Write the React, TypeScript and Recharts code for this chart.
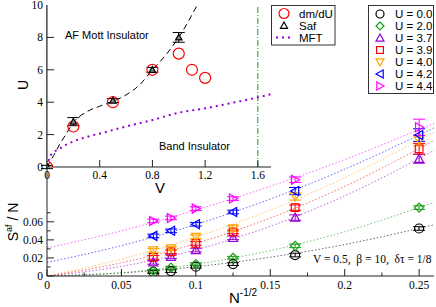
import React from 'react'
import { ComposedChart, Line, Scatter, XAxis, YAxis, ErrorBar, ReferenceLine } from 'recharts'

const SERIF = '"Liberation Serif", "DejaVu Serif", serif'
const SANS = '"Liberation Sans", Arial, sans-serif'
const AXIS = '#222'

// main panel: S_af / N against N^-1/2
const SIZES = [0.0714, 0.0833, 0.1, 0.125, 0.1667, 0.25]
const U_LABELS = ['U = 0.0', 'U = 2.0', 'U = 3.7', 'U = 3.9', 'U = 4.0', 'U = 4.2', 'U = 4.4']
const COLORS = ['#000000', '#14a014', '#9400d3', '#ff0000', '#ffa500', '#0000ff', '#ff00ff']
const KINDS = ['circle', 'diamond', 'up', 'square', 'down', 'left', 'right']

const S_U00 = [0.0045, 0.0055, 0.0103, 0.0132, 0.0232, 0.0526]
const S_U20 = [0.0058, 0.0092, 0.0132, 0.0202, 0.0334, 0.0757]
const S_U37 = [0.0151, 0.0213, 0.0287, 0.0422, 0.0647, 0.1298]
const S_U39 = [0.0206, 0.0268, 0.036, 0.0488, 0.0757, 0.1408]
const S_U40 = [0.0283, 0.0305, 0.0433, 0.0526, 0.088, 0.15]
const S_U42 = [0.0444, 0.05, 0.0573, 0.0709, 0.094, 0.156]
const S_U44 = [0.061, 0.0643, 0.0746, 0.0857, 0.1066, 0.1646]

const E_U00 = [0.0015, 0.0015, 0.0015, 0.0015, 0.002, 0.002]
const E_U20 = [0.0015, 0.0015, 0.0015, 0.0015, 0.002, 0.002]
const E_U37 = [0.002, 0.002, 0.002, 0.002, 0.003, 0.005]
const E_U39 = [0.002, 0.002, 0.002, 0.002, 0.003, 0.006]
const E_U40 = [0.002, 0.002, 0.002, 0.003, 0.004, 0.006]
const E_U42 = [0.002, 0.002, 0.002, 0.002, 0.004, 0.007]
const E_U44 = [0.002, 0.002, 0.002, 0.002, 0.003, 0.009]

// dotted fit curves, read at these x positions
const FIT_X = [0, 0.05, 0.1, 0.15, 0.2, 0.26]
const FIT_U00 = [0, 0.0034, 0.0103, 0.0208, 0.0349, 0.0566]
const FIT_U20 = [0, 0.0036, 0.013, 0.0281, 0.049, 0.0817]
const FIT_U37 = [0, 0.0107, 0.029, 0.0551, 0.0887, 0.139]
const FIT_U39 = [0, 0.0146, 0.036, 0.0642, 0.0992, 0.15]
const FIT_U40 = [0, 0.0187, 0.043, 0.073, 0.1087, 0.159]
const FIT_U42 = [0.015, 0.0336, 0.057, 0.0852, 0.1182, 0.164]
const FIT_U44 = [0.031, 0.05, 0.073, 0.0993, 0.1289, 0.169]

const MAIN_X_TICKS = [0, 0.025, 0.05, 0.075, 0.1, 0.125, 0.15, 0.175, 0.2, 0.225, 0.25]
const MAIN_X_LABELS = ['0', '', '0.05', '', '0.1', '', '0.15', '', '0.2', '', '0.25']
const MAIN_Y_TICKS = [0, 0.01, 0.02, 0.03, 0.04, 0.05, 0.06, 0.07]
const MAIN_Y_LABELS = ['0', '', '0.02', '', '0.04', '', '0.06', '']

// inset: phase diagram U against V
const DMDU_V = [0, 0.2, 0.5, 0.8, 1.0, 1.1, 1.2]
const DMDU_U = [0, 2.5, 4.0, 6.0, 7.0, 6.0, 5.5]
const SAF_V = [0, 0.2, 0.5, 0.8, 1.0]
const SAF_U = [0, 2.8, 4.1, 6.0, 8.0]
const SAF_ERR = [0.1, 0.25, 0.12, 0.15, 0.3]
const BOUND_V = [0, 0.05, 0.1, 0.15, 0.2, 0.3, 0.4, 0.5, 0.6, 0.7, 0.8, 0.9, 1.0, 1.14]
const BOUND_U = [0, 0.7, 1.45, 2.1, 2.75, 3.4, 3.75, 4.05, 4.45, 5.05, 6.0, 6.9, 8.0, 10]
const MFT_V = [0, 0.02, 0.05, 0.1, 0.15, 0.2, 0.3, 0.45, 0.6, 0.8, 1.0, 1.2, 1.4, 1.6, 1.7]
const MFT_U = [0, 0.6, 0.9, 1.15, 1.4, 1.58, 1.85, 2.17, 2.5, 2.9, 3.35, 3.62, 3.95, 4.3, 4.5]

const IN_X_TICKS = [0, 0.4, 0.8, 1.2, 1.6]
const IN_X_LABELS = ['0', '0.4', '0.8', '1.2', '1.6']
const IN_Y_TICKS = [0, 2, 4, 6, 8, 10]
const IN_Y_LABELS = ['0', '2', '4', '6', '8', '10']

const zip = (xs: number[], ys: number[], es?: number[]) =>
  xs.map((x, i) => ({ x, y: ys[i], err: es ? es[i] : 0 }))

const SERIES = [
  { vals: S_U00, errs: E_U00, fit: FIT_U00 },
  { vals: S_U20, errs: E_U20, fit: FIT_U20 },
  { vals: S_U37, errs: E_U37, fit: FIT_U37 },
  { vals: S_U39, errs: E_U39, fit: FIT_U39 },
  { vals: S_U40, errs: E_U40, fit: FIT_U40 },
  { vals: S_U42, errs: E_U42, fit: FIT_U42 },
  { vals: S_U44, errs: E_U44, fit: FIT_U44 },
].map((s, i) => ({
  ...s,
  label: U_LABELS[i],
  color: COLORS[i],
  kind: KINDS[i],
  points: zip(SIZES, s.vals, s.errs),
  fitData: zip(FIT_X, s.fit),
}))

function Marker({ kind, cx, cy, color, s = 4.5, fill = 'none' }: any) {
  if (cx == null || cy == null) return null
  const st = { fill, stroke: color, strokeWidth: 1.2 }
  switch (kind) {
    case 'circle':
      return <circle cx={cx} cy={cy} r={s} {...st} />
    case 'diamond':
      return <polygon points={`${cx},${cy - s} ${cx + s},${cy} ${cx},${cy + s} ${cx - s},${cy}`} {...st} />
    case 'square':
      return <rect x={cx - s * 0.85} y={cy - s * 0.85} width={s * 1.7} height={s * 1.7} {...st} />
    case 'up':
      return <polygon points={`${cx},${cy - s} ${cx + s},${cy + s * 0.8} ${cx - s},${cy + s * 0.8}`} {...st} />
    case 'down':
      return <polygon points={`${cx},${cy + s} ${cx + s},${cy - s * 0.8} ${cx - s},${cy - s * 0.8}`} {...st} />
    case 'left':
      return <polygon points={`${cx - s},${cy} ${cx + s * 0.8},${cy - s} ${cx + s * 0.8},${cy + s}`} {...st} />
    case 'right':
      return <polygon points={`${cx + s},${cy} ${cx - s * 0.8},${cy - s} ${cx - s * 0.8},${cy + s}`} {...st} />
  }
  return null
}

// ticks point inwards, minor ones have empty labels
const BottomTick = ({ x, y, index, labels, len = 7 }: any) => {
  const lab = labels[index]
  return (
    <g>
      <line x1={x} x2={x} y1={y} y2={y - (lab ? len : len / 2)} stroke={AXIS} />
      {lab && (
        <text x={x} y={y + 12.5} textAnchor="middle" fontFamily={SERIF} fontSize={11.5} fill="#000">
          {lab}
        </text>
      )}
    </g>
  )
}

const LeftTick = ({ x, y, index, labels, len = 7 }: any) => {
  const lab = labels[index]
  return (
    <g>
      <line x1={x} x2={x + (lab ? len : len / 2)} y1={y} y2={y} stroke={AXIS} />
      {lab && (
        <text x={x - 4} y={y + 4} textAnchor="end" fontFamily={SERIF} fontSize={11.5} fill="#000">
          {lab}
        </text>
      )}
    </g>
  )
}

const TopTick = ({ x, y }: any) => <line x1={x} x2={x} y1={y} y2={y + 7} stroke={AXIS} />
const RightTick = ({ x, y }: any) => <line x1={x} x2={x - 7} y1={y} y2={y} stroke={AXIS} />

function MainChart() {
  return (
    <ComposedChart width={436} height={307} margin={{ top: 5, right: 2, left: 0, bottom: 0 }}>
      <XAxis
        dataKey="x"
        type="number"
        domain={[0, 0.26]}
        ticks={MAIN_X_TICKS}
        interval={0}
        height={31}
        tickSize={0}
        tickMargin={0}
        allowDataOverflow
        stroke={AXIS}
        tick={(p: any) => <BottomTick {...p} labels={MAIN_X_LABELS} />}
      />
      <YAxis
        dataKey="y"
        type="number"
        domain={[0, 0.3]}
        ticks={MAIN_Y_TICKS}
        interval={0}
        width={47}
        tickSize={0}
        tickMargin={0}
        allowDataOverflow
        stroke={AXIS}
        tick={(p: any) => <LeftTick {...p} labels={MAIN_Y_LABELS} />}
      />
      <XAxis xAxisId="top" orientation="top" type="number" domain={[0, 0.26]} height={0} tick={false} tickLine={false} stroke={AXIS} />
      <YAxis yAxisId="right" orientation="right" type="number" domain={[0, 0.3]} width={0} tick={false} tickLine={false} stroke={AXIS} />
      {SERIES.map((s) => (
        <Line
          key={'fit' + s.label}
          data={s.fitData}
          dataKey="y"
          type="monotone"
          stroke={s.color}
          strokeOpacity={0.6}
          strokeWidth={1}
          strokeDasharray="1.5 2"
          dot={false}
          activeDot={false}
          isAnimationActive={false}
        />
      ))}
      {SERIES.map((s) => (
        <Scatter
          key={'pts' + s.label}
          data={s.points}
          dataKey="y"
          isAnimationActive={false}
          shape={(p: any) => <Marker kind={s.kind} cx={p.cx} cy={p.cy} color={s.color} />}
        >
          <ErrorBar dataKey="err" direction="y" width={6} stroke={s.color} strokeWidth={1} />
        </Scatter>
      ))}
    </ComposedChart>
  )
}

function InsetChart() {
  return (
    <ComposedChart width={275} height={200} margin={{ top: 5, right: 4, left: 0, bottom: 0 }}>
      <XAxis
        dataKey="x"
        type="number"
        domain={[0, 1.7]}
        ticks={IN_X_TICKS}
        interval={0}
        height={33}
        tickSize={0}
        tickMargin={0}
        allowDataOverflow
        stroke={AXIS}
        tick={(p: any) => (
          <g>
            {p.index > 0 && <line x1={p.x} x2={p.x} y1={p.y} y2={p.y - 7} stroke={AXIS} />}
            <text x={p.x} y={p.y + 11.5} textAnchor="middle" fontFamily={SERIF} fontSize={11.5} fill="#000">
              {IN_X_LABELS[p.index]}
            </text>
          </g>
        )}
      />
      <YAxis
        dataKey="y"
        type="number"
        domain={[0, 10]}
        ticks={IN_Y_TICKS}
        interval={0}
        width={47}
        tickSize={0}
        tickMargin={0}
        allowDataOverflow
        stroke={AXIS}
        tick={(p: any) => (
          <g>
            {p.index > 0 && p.index < 5 && <line x1={p.x} x2={p.x + 7} y1={p.y} y2={p.y} stroke={AXIS} />}
            <text x={p.x - 4} y={p.y + 4} textAnchor="end" fontFamily={SERIF} fontSize={11.5} fill="#000">
              {IN_Y_LABELS[p.index]}
            </text>
          </g>
        )}
      />
      <XAxis
        xAxisId="top"
        orientation="top"
        type="number"
        domain={[0, 1.7]}
        ticks={[0.4, 0.8, 1.2]}
        interval={0}
        height={0}
        tickSize={0}
        tickMargin={0}
        stroke={AXIS}
        tick={(p: any) => <TopTick {...p} />}
      />
      <YAxis
        yAxisId="right"
        orientation="right"
        type="number"
        domain={[0, 10]}
        ticks={[2, 4, 6, 8]}
        interval={0}
        width={0}
        tickSize={0}
        tickMargin={0}
        stroke={AXIS}
        tick={(p: any) => <RightTick {...p} />}
      />
      <ReferenceLine x={1.6} stroke="#14a014" strokeDasharray="6 2 1 2" strokeWidth={1} />
      <Line
        data={zip(MFT_V, MFT_U)}
        dataKey="y"
        type="monotone"
        stroke="#9400d3"
        strokeWidth={2}
        strokeDasharray="2 4"
        dot={false}
        activeDot={false}
        isAnimationActive={false}
      />
      <Line
        data={zip(BOUND_V, BOUND_U)}
        dataKey="y"
        type="monotone"
        stroke="#000"
        strokeWidth={1}
        strokeDasharray="6 4"
        dot={false}
        activeDot={false}
        isAnimationActive={false}
      />
      <Scatter
        data={zip(DMDU_V, DMDU_U)}
        dataKey="y"
        isAnimationActive={false}
        shape={(p: any) => <Marker kind="circle" cx={p.cx} cy={p.cy} color="#ff0000" s={5.5} />}
      />
      <Scatter
        data={zip(SAF_V, SAF_U, SAF_ERR)}
        dataKey="y"
        isAnimationActive={false}
        shape={(p: any) => <Marker kind="up" cx={p.cx} cy={p.cy} color="#000" s={3.2} fill="#888" />}
      >
        <ErrorBar dataKey="err" direction="y" width={6} stroke="#000" strokeWidth={1} />
      </Scatter>
    </ComposedChart>
  )
}

function Overlay() {
  return (
    <svg width={436} height={307} style={{ position: 'absolute', left: 0, top: 0, pointerEvents: 'none' }}>
      {/* axis titles */}
      <text x={23} y={85} transform="rotate(-90 23 85)" textAnchor="middle" dominantBaseline="central" fontFamily={SANS} fontSize={14}>
        U
      </text>
      <text x={160} y={193} textAnchor="middle" fontFamily={SANS} fontSize={15}>
        V
      </text>
      <text x={229} y={303} fontFamily={SANS} fontSize={15}>
        N
        <tspan dy={-7} fontSize={10}>
          -1/2
        </tspan>
      </text>
      <text transform="translate(18,222) rotate(-90)" textAnchor="middle" fontFamily={SANS} fontSize={14}>
        S
        <tspan dy={-6} fontSize={9}>
          af
        </tspan>
        <tspan dy={6}> / N</tspan>
      </text>

      {/* inset annotations */}
      <text x={65} y={39} fontFamily={SANS} fontSize={11}>
        AF Mott Insulator
      </text>
      <text x={159} y={149.5} fontFamily={SANS} fontSize={11}>
        Band Insulator
      </text>

      {/* inset legend */}
      <rect x={271.5} y={5.5} width={63.5} height={39.5} fill="#fff" stroke="#333" />
      <Marker kind="circle" cx={284} cy={13.5} color="#ff0000" s={5} />
      <text x={299} y={17.5} fontFamily={SANS} fontSize={11.5}>dm/dU</text>
      <Marker kind="up" cx={284} cy={25.5} color="#000" s={3.5} />
      <text x={299} y={29.5} fontFamily={SANS} fontSize={11.5}>Saf</text>
      <line x1={276} x2={293} y1={37.5} y2={37.5} stroke="#9400d3" strokeWidth={2} strokeDasharray="2 4" />
      <text x={299} y={41.5} fontFamily={SANS} fontSize={11.5}>MFT</text>

      {/* main legend */}
      <rect x={368.5} y={5.5} width={65} height={88} fill="#fff" stroke="#333" />
      {SERIES.map((s, i) => (
        <g key={s.label}>
          <Marker kind={s.kind} cx={380} cy={14 + i * 12} color={s.color} s={4} />
          <text x={395} y={18 + i * 12} fontFamily={SANS} fontSize={11.5}>
            {s.label}
          </text>
        </g>
      ))}

      <text x={313} y={262.5} fontFamily={SERIF} fontSize={11.5} style={{ whiteSpace: 'pre' }}>
        {'V = 0.5,  \u03b2 = 10,  \u03b4\u03c4 = 1/8'}
      </text>
    </svg>
  )
}

export default function App() {
  return (
    <div style={{ position: 'absolute', left: 0, top: 0, width: 436, height: 307, background: '#fff' }}>
      <div style={{ position: 'absolute', left: 0, top: 0 }}>
        <MainChart />
      </div>
      <div style={{ position: 'absolute', left: 47, top: 5, width: 224, height: 162, background: '#fff' }} />
      <div style={{ position: 'absolute', left: 0, top: 0 }}>
        <InsetChart />
      </div>
      <Overlay />
    </div>
  )
}
